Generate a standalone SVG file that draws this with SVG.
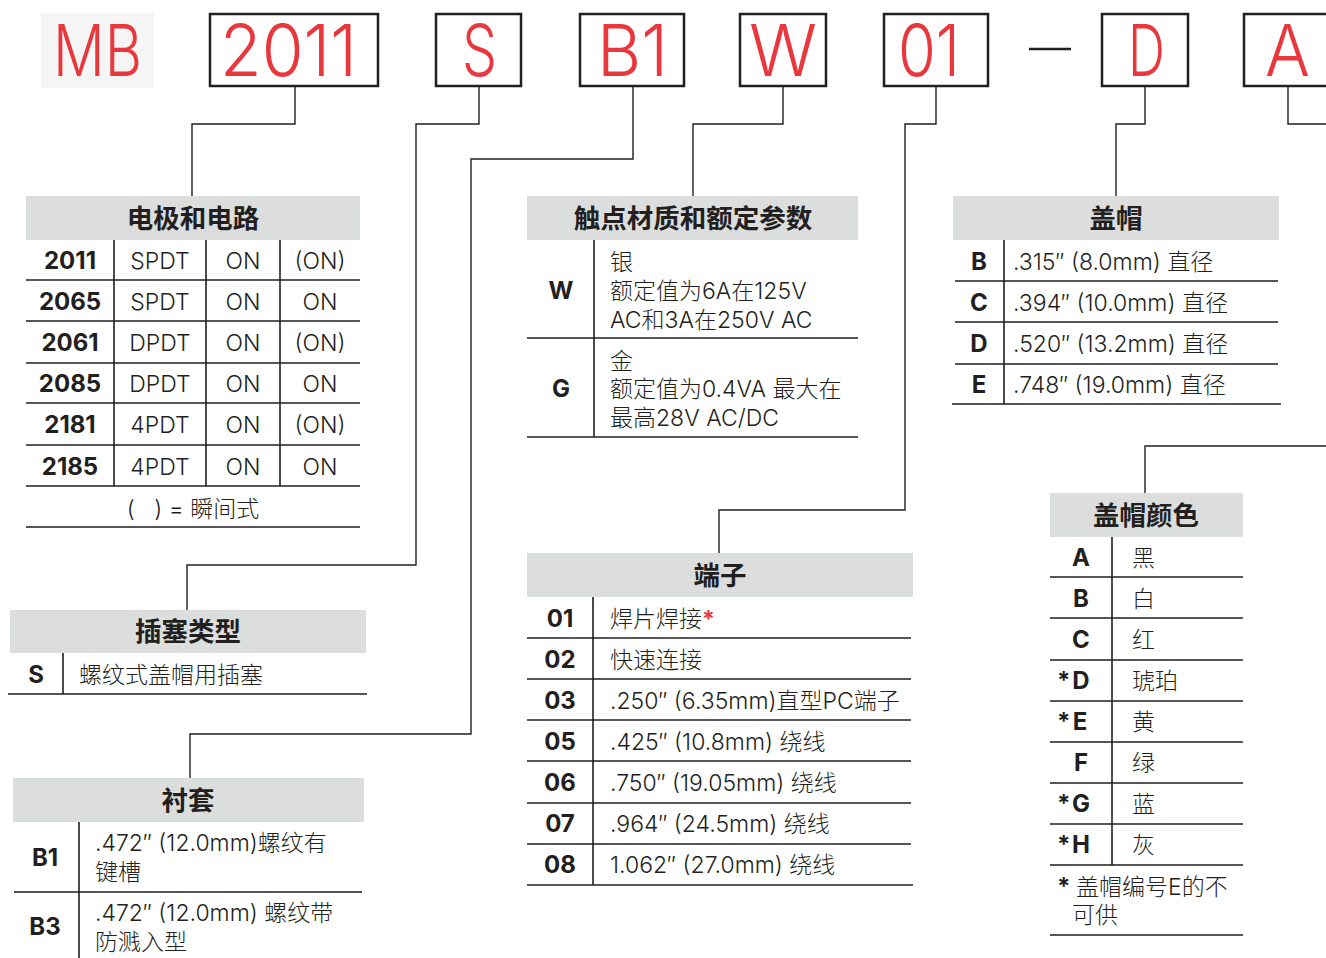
<svg xmlns="http://www.w3.org/2000/svg" width="1326" height="958" viewBox="0 0 1326 958">
<style>
.bg{fill:#ffffff}
.hdr{fill:#dcdddd}
.box{fill:#ffffff;stroke:#231f20;stroke-width:2.5}
.ln{stroke:#231f20;stroke-width:1.4;fill:none}
.tl{stroke:#231f20;stroke-width:1.6;fill:none}
.t{font-family:"Inter","Noto Sans CJK SC",sans-serif;font-size:23px;font-weight:300;fill:#231f20}
.c{text-anchor:middle}
.b{font-weight:bold;font-size:24px}
.ti{font-family:"Noto Sans CJK SC","Liberation Sans",sans-serif;font-size:26.5px;font-weight:bold;fill:#231f20;text-anchor:middle}
.big{font-family:"Inter","Liberation Sans",sans-serif;font-size:72px;font-weight:300;fill:#e8383d}
.red{fill:#e8383d}
</style>
<rect class="bg" x="0" y="0" width="1326" height="958"/>

<g id="connectors">
<polyline class="ln" points="295,86 295,124 192,124 192,197"/>
<polyline class="ln" points="479,86 479,124 416,124 416,565 187,565 187,611"/>
<polyline class="ln" points="633,86 633,159 471,159 471,734 190,734 190,779"/>
<polyline class="ln" points="783,86 783,124 693,124 693,197"/>
<polyline class="ln" points="936,86 936,124 905,124 905,510 719,510 719,553"/>
<polyline class="ln" points="1145,86 1145,124 1116,124 1116,197"/>
<polyline class="ln" points="1288,86 1288,124 1326,124"/>
<polyline class="ln" points="1145,493 1145,446 1326,446"/>
</g>

<g id="code-MB">
<rect x="41" y="13" width="113" height="75" fill="#f5f5f5"/>
<text class="big" x="53" y="76" textLength="89" lengthAdjust="spacingAndGlyphs">MB</text>
</g>
<g id="code-2011">
<rect class="box" x="210" y="14" width="168" height="72"/>
<text class="big" x="220" y="76" textLength="137" lengthAdjust="spacingAndGlyphs">2011</text>
</g>
<g id="code-S">
<rect class="box" x="436" y="14" width="85" height="72"/>
<text class="big" x="462" y="76" textLength="35" lengthAdjust="spacingAndGlyphs">S</text>
</g>
<g id="code-B1">
<rect class="box" x="580" y="14" width="104" height="72"/>
<text class="big" x="597" y="76" textLength="71" lengthAdjust="spacingAndGlyphs">B1</text>
</g>
<g id="code-W">
<rect class="box" x="740" y="14" width="86" height="72"/>
<text class="big" x="749" y="76" textLength="68" lengthAdjust="spacingAndGlyphs">W</text>
</g>
<g id="code-01">
<rect class="box" x="884" y="14" width="104" height="72"/>
<text class="big" x="898" y="76" textLength="62" lengthAdjust="spacingAndGlyphs">01</text>
</g>
<g id="dash">
<line x1="1029" y1="49" x2="1071" y2="49" stroke="#231f20" stroke-width="2.5"/>
</g>
<g id="code-D">
<rect class="box" x="1102" y="14" width="86" height="72"/>
<text class="big" x="1128" y="76" textLength="37" lengthAdjust="spacingAndGlyphs">D</text>
</g>
<g id="code-A">
<rect class="box" x="1244" y="14" width="90" height="72"/>
<text class="big" x="1265" y="76" textLength="45" lengthAdjust="spacingAndGlyphs">A</text>
</g>

<g id="table-poles">
<rect class="hdr" x="26" y="196" width="334" height="44"/>
<text class="ti" x="193" y="228">电极和电路</text>
<path class="tl" d="M114,240V486M206,240V486M280,240V486M26,280H360M26,321H360M26,363H360M26,403H360M26,445H360M26,486H360M26,527H360"/>
<text class="t b c" x="70" y="269">2011</text>
<text class="t c" x="160" y="269">SPDT</text>
<text class="t c" x="243" y="269">ON</text>
<text class="t c" x="320" y="269">(ON)</text>
<text class="t b c" x="70" y="310">2065</text>
<text class="t c" x="160" y="310">SPDT</text>
<text class="t c" x="243" y="310">ON</text>
<text class="t c" x="320" y="310">ON</text>
<text class="t b c" x="70" y="351">2061</text>
<text class="t c" x="160" y="351">DPDT</text>
<text class="t c" x="243" y="351">ON</text>
<text class="t c" x="320" y="351">(ON)</text>
<text class="t b c" x="70" y="392">2085</text>
<text class="t c" x="160" y="392">DPDT</text>
<text class="t c" x="243" y="392">ON</text>
<text class="t c" x="320" y="392">ON</text>
<text class="t b c" x="70" y="433">2181</text>
<text class="t c" x="160" y="433">4PDT</text>
<text class="t c" x="243" y="433">ON</text>
<text class="t c" x="320" y="433">(ON)</text>
<text class="t b c" x="70" y="475">2185</text>
<text class="t c" x="160" y="475">4PDT</text>
<text class="t c" x="243" y="475">ON</text>
<text class="t c" x="320" y="475">ON</text>
<text class="t c" x="193" y="517" xml:space="preserve">(   ) = 瞬间式</text>
</g>

<g id="table-contacts">
<rect class="hdr" x="527" y="196" width="331" height="44"/>
<text class="ti" x="693" y="228">触点材质和额定参数</text>
<path class="tl" d="M594,240V437M527,338H858M527,437H858"/>
<text class="t b c" x="561" y="299">W</text>
<text class="t" x="610" y="270">银</text>
<text class="t" x="610" y="299">额定值为6A在125V</text>
<text class="t" x="610" y="328">AC和3A在250V AC</text>
<text class="t b c" x="561" y="397">G</text>
<text class="t" x="610" y="369">金</text>
<text class="t" x="610" y="397">额定值为0.4VA 最大在</text>
<text class="t" x="610" y="426">最高28V AC/DC</text>
</g>

<g id="table-cap">
<rect class="hdr" x="953" y="196" width="326" height="44"/>
<text class="ti" x="1116" y="228">盖帽</text>
<path class="tl" d="M1004,240V404M955,281H1278M955,322H1278M955,364H1278M952,404H1281"/>
<text class="t b c" x="979" y="270">B</text>
<text class="t" x="1013" y="270">.315″ (8.0mm) 直径</text>
<text class="t b c" x="979" y="311">C</text>
<text class="t" x="1013" y="311">.394″ (10.0mm) 直径</text>
<text class="t b c" x="979" y="352">D</text>
<text class="t" x="1013" y="352">.520″ (13.2mm) 直径</text>
<text class="t b c" x="979" y="393">E</text>
<text class="t" x="1013" y="393">.748″ (19.0mm) 直径</text>
</g>

<g id="table-plug">
<rect class="hdr" x="10" y="610" width="356" height="43"/>
<text class="ti" x="188" y="641">插塞类型</text>
<path class="tl" d="M63,653V694M8,694H367"/>
<text class="t b c" x="36" y="683">S</text>
<text class="t" x="79" y="683">螺纹式盖帽用插塞</text>
</g>

<g id="table-bushing">
<rect class="hdr" x="13" y="778" width="351" height="44"/>
<text class="ti" x="188" y="810">衬套</text>
<path class="tl" d="M79,822V958M14,892H362"/>
<text class="t b c" x="45" y="866">B1</text>
<text class="t" x="95" y="851">.472″ (12.0mm)螺纹有</text>
<text class="t" x="95" y="880">键槽</text>
<text class="t b c" x="45" y="935">B3</text>
<text class="t" x="95" y="921">.472″ (12.0mm) 螺纹带</text>
<text class="t" x="95" y="950">防溅入型</text>
</g>

<g id="table-terminals">
<rect class="hdr" x="527" y="553" width="386" height="44"/>
<text class="ti" x="720" y="585">端子</text>
<path class="tl" d="M593,597V885M527,638H911M527,679H911M527,720H911M527,761H911M527,803H911M527,844H911M527,885H913"/>
<text class="t b c" x="560" y="627">01</text>
<text class="t" x="610" y="627">焊片焊接<tspan class="red" font-weight="bold">*</tspan></text>
<text class="t b c" x="560" y="668">02</text>
<text class="t" x="610" y="668">快速连接</text>
<text class="t b c" x="560" y="709">03</text>
<text class="t" x="610" y="709">.250″ (6.35mm)直型PC端子</text>
<text class="t b c" x="560" y="750">05</text>
<text class="t" x="610" y="750">.425″ (10.8mm) 绕线</text>
<text class="t b c" x="560" y="791">06</text>
<text class="t" x="610" y="791">.750″ (19.05mm) 绕线</text>
<text class="t b c" x="560" y="832">07</text>
<text class="t" x="610" y="832">.964″ (24.5mm) 绕线</text>
<text class="t b c" x="560" y="873">08</text>
<text class="t" x="610" y="873">1.062″ (27.0mm) 绕线</text>
</g>

<g id="table-colors">
<rect class="hdr" x="1050" y="493" width="193" height="44"/>
<text class="ti" x="1146" y="525">盖帽颜色</text>
<path class="tl" d="M1112,537V865M1050,577H1243M1050,618H1243M1050,660H1243M1050,701H1243M1050,742H1243M1050,783H1243M1050,824H1243M1050,865H1243M1050,935H1243"/>
<text class="t b c" x="1081" y="566">A</text>
<text class="t" x="1132" y="566">黑</text>
<text class="t b c" x="1081" y="607">B</text>
<text class="t" x="1132" y="607">白</text>
<text class="t b c" x="1081" y="648">C</text>
<text class="t" x="1132" y="648">红</text>
<text class="t b" x="1057" y="689">*</text>
<text class="t b c" x="1081" y="689">D</text>
<text class="t" x="1132" y="689">琥珀</text>
<text class="t b" x="1057" y="730">*</text>
<text class="t b c" x="1080" y="730">E</text>
<text class="t" x="1132" y="730">黄</text>
<text class="t b c" x="1081" y="771">F</text>
<text class="t" x="1132" y="771">绿</text>
<text class="t b" x="1057" y="812">*</text>
<text class="t b c" x="1081" y="812">G</text>
<text class="t" x="1132" y="812">蓝</text>
<text class="t b" x="1057" y="853">*</text>
<text class="t b c" x="1081" y="853">H</text>
<text class="t" x="1132" y="853">灰</text>
<text class="t b" x="1057" y="895">*</text>
<text class="t" x="1076" y="895">盖帽编号E的不</text>
<text class="t" x="1072" y="923">可供</text>
</g>
</svg>
